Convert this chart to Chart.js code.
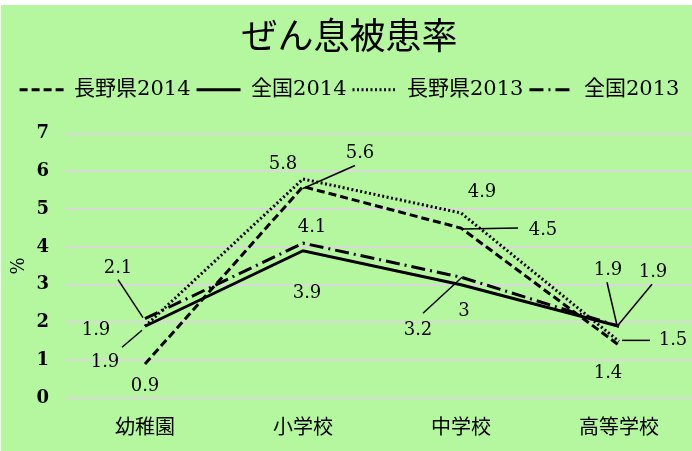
<!DOCTYPE html>
<html><head><meta charset="utf-8">
<script src="https://cdn.jsdelivr.net/npm/chart.js@4/dist/chart.umd.min.js"></script>
<style>
html,body{margin:0;padding:0;background:#fff;overflow:hidden;width:692px;height:451px;}
#wrap{position:absolute;left:1px;top:5px;width:700px;height:446px;background:#b5f79f;}
canvas{display:block;}
</style></head><body>
<div id="wrap"><canvas id="c" width="700" height="446"></canvas></div>
<script>
// ---- data ----
const categories = ['幼稚園', '小学校', '中学校', '高等学校'];
const seriesNames = ['長野県2014', '全国2014', '長野県2013', '全国2013'];
const nagano2014 = [0.9, 5.6, 4.5, 1.4];
const zenkoku2014 = [1.9, 3.9, 3.0, 1.9];
const nagano2013 = [1.9, 5.8, 4.9, 1.5];
const zenkoku2013 = [2.1, 4.1, 3.2, 1.9];
const yTicks = [0, 1, 2, 3, 4, 5, 6, 7];
const chartTitle = 'ぜん息被患率';
const yTitle = '%';

// ---- label placement (pixel offsets from each point; optional leader line) ----
const labelLayout = [
  [{dx: 0, dy: 22}, {dx: 57, dy: -33, l: [0, 2, 52, -21]}, {dx: 82, dy: 2, l: [1, 1, 57, 0]}, {dx: -11, dy: 28}],
  [{dx: -40, dy: 36, l: [-3, 4, -23, 21]}, {dx: 4, dy: 43}, {dx: 3, dy: 27}, {dx: -11, dy: -56, l: [-2, -1, -12, -44]}],
  [{dx: -49, dy: 4}, {dx: -20, dy: -15}, {dx: 21, dy: -21}, {dx: 54, dy: -1, l: [3, -1, 31, -1]}],
  [{dx: -27, dy: -50, l: [-2, -1, -27, -39]}, {dx: 9, dy: -16}, {dx: -43, dy: 53, l: [1, 0, -38, 36]}, {dx: 34, dy: -54, l: [-1, -1, 33, -42]}]
];

const serifJP = '"DejaVu Serif", "Noto Sans CJK JP"';

const valueLabels = {
  id: 'valueLabels',
  afterDatasetsDraw(chart) {
    const ctx = chart.ctx;
    ctx.save();
    ctx.font = '18px "DejaVu Serif"';
    ctx.fillStyle = '#000';
    ctx.strokeStyle = '#000';
    ctx.lineWidth = 1.5;
    ctx.textAlign = 'center';
    ctx.textBaseline = 'middle';
    chart.data.datasets.forEach((ds, i) => {
      const meta = chart.getDatasetMeta(i);
      meta.data.forEach((pt, j) => {
        const L = labelLayout[i][j];
        if (L.l) {
          ctx.beginPath();
          ctx.moveTo(pt.x + L.l[0], pt.y + L.l[1]);
          ctx.lineTo(pt.x + L.l[2], pt.y + L.l[3]);
          ctx.stroke();
        }
        ctx.fillText(String(ds.data[j]), pt.x + L.dx, pt.y + L.dy);
      });
    });
    ctx.restore();
  }
};

const common = {fill: false, borderColor: '#000', backgroundColor: '#000', pointRadius: 0, pointHoverRadius: 0, tension: 0, borderJoinStyle: 'miter', borderCapStyle: 'butt'};

new Chart(document.getElementById('c'), {
  type: 'line',
  data: {
    labels: categories,
    datasets: [
      Object.assign({}, common, {label: seriesNames[0], data: nagano2014, borderWidth: 3, borderDash: [8, 4]}),
      Object.assign({}, common, {label: seriesNames[1], data: zenkoku2014, borderWidth: 3, borderDash: []}),
      Object.assign({}, common, {label: seriesNames[2], data: nagano2013, borderWidth: 3, borderDash: [2, 2.5]}),
      Object.assign({}, common, {label: seriesNames[3], data: zenkoku2013, borderWidth: 3, borderDash: [14, 5, 2, 5]})
    ]
  },
  options: {
    responsive: false,
    animation: false,
    events: [],
    layout: {padding: {left: 0, right: 3, top: 0, bottom: 0}},
    plugins: {
      title: {display: true, text: chartTitle, color: '#000', font: {family: serifJP, size: 36, weight: 'normal', lineHeight: 1.2}, padding: {top: 13, bottom: 12}},
      legend: {display: true, labels: {
        usePointStyle: true, pointStyle: 'line', pointStyleWidth: 44, color: '#000', font: {family: serifJP, size: 21}, padding: 6,
        generateLabels: chart => {
          const items = Chart.defaults.plugins.legend.labels.generateLabels(chart);
          items.forEach((it, i) => {
            const ds = chart.data.datasets[i];
            it.lineDash = ds.borderDash;
            it.lineWidth = ds.borderWidth;
            it.strokeStyle = ds.borderColor;
            it.pointStyle = 'line';
          });
          return items;
        }
      }},
      tooltip: {enabled: false}
    },
    scales: {
      x: {type: 'category', offset: true, grid: {display: false}, border: {display: false},
          ticks: {color: '#000', font: {family: '"Noto Sans CJK JP"', size: 20}, padding: 8, maxRotation: 0, autoSkip: false},
          afterFit: s => { s.height = 53; }},
      xSpacer: {axis: 'x', type: 'category', position: 'top', offset: true, grid: {display: false}, border: {display: false},
          ticks: {display: false}, afterFit: s => { s.height = 23.5; }},
      y: {min: 0, max: 7,
          afterBuildTicks: s => { s.ticks = yTicks.map(v => ({value: v})); },
          grid: {color: '#d9d9d9', lineWidth: 2, drawTicks: false}, border: {display: false},
          ticks: {color: '#000', font: {family: '"DejaVu Serif"', size: 18, weight: 'bold'}, padding: 17},
          title: {display: true, text: yTitle, color: '#000', font: {family: '"DejaVu Serif"', size: 18}, padding: {top: 8, bottom: 0}},
          afterFit: s => { s.width = 65; }}
    }
  },
  plugins: [valueLabels]
});
</script>
</body></html>
